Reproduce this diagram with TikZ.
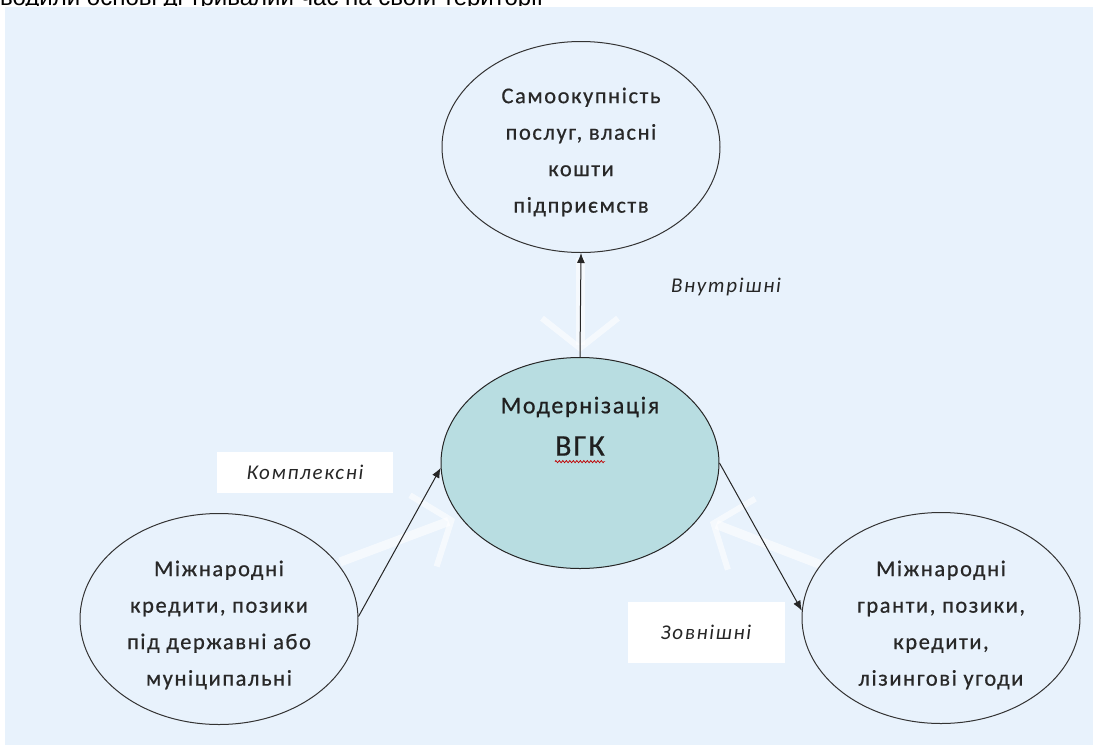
\documentclass[tikz,border=0pt]{standalone}
\usepackage{fontspec}
\setmainfont{Carlito}
\newfontfamily\diag[LetterSpace=7,FakeBold=0.6]{Carlito}
\newfontfamily\lbl[LetterSpace=8]{Carlito}
\newfontfamily\toptext{Liberation Sans}
\usetikzlibrary{shapes.geometric,arrows.meta,decorations.pathmorphing}
\definecolor{panel}{RGB}{232,242,252}
\definecolor{core}{RGB}{184,221,225}
\definecolor{txt}{RGB}{40,40,40}
\begin{document}
\begin{tikzpicture}[x=1pt,y=-1pt,
  oval/.style={ellipse, draw=black!80, line width=1pt, fill=panel,
    minimum width=278pt, minimum height=211pt, inner sep=0pt},
  ovaltext/.style={inner sep=0pt, align=center, text=txt,
    font=\diag\fontsize{22.5}{36.5}\selectfont},
  conn/.style={-{Latex[length=10pt,width=8pt]}, line width=1pt, black!85},
  ghost/.style={white, opacity=0.6, line width=9pt,
    -{Straight Barb[length=30pt,width=76pt,line width=6pt]}},
  tag/.style={fill=white, inner sep=0pt, text=black!85,
    font=\lbl\itshape\fontsize{21}{24}\selectfont},
  coretext/.style={inner sep=0pt, text=black!88}]
\useasboundingbox (0,0) rectangle (1093,745);
\fill[panel] (5,7) rectangle (1093,745);
\begin{scope}
  \clip (0,0) rectangle (1093,5);
  \node[anchor=base west, inner sep=0pt, font=\toptext\fontsize{24}{24}\selectfont] (cut) at (0,5) {водили основі ді тривалий час на своїй території};
\end{scope}
% faint white arrows
\coordinate (g1a) at (580,258);
\coordinate (g1b) at (580,352);
\coordinate (g2a) at (340,562);
\coordinate (g2b) at (455,519);
\coordinate (g3a) at (824,566);
\coordinate (g3b) at (710,522);
\draw[ghost] (g1a) -- (g1b);
\draw[ghost] (g2a) -- (g2b);
\draw[ghost] (g3a) -- (g3b);
% ellipses
\node[oval] (t) at (581,147) {};
\node[oval, fill=core, draw=black!85] (c) at (580,463) {};
\node[oval] (l) at (219,619) {};
\node[oval] (r) at (941,618) {};
\node[ovaltext] (tt) at (581,152) {Самоокупність\\послуг, власні\\кошти\\підприємств};
\node[ovaltext] (lt) at (219,625) {Міжнародні\\кредити, позики\\під державні або\\муніципальні};
\node[ovaltext] (rt) at (941,625) {Міжнародні\\гранти, позики,\\кредити,\\лізингові угоди};
\node[coretext, font=\diag\fontsize{24}{26}\selectfont] (ct1) at (580,407) {Модернізація};
\node[coretext, font=\diag\fontsize{30}{32}\selectfont] (ct2) at (580,446) {ВГК};
\draw[red!75!black, line width=0.7pt, decorate, decoration={zigzag, amplitude=1.1pt, segment length=3.5pt}]
  ([yshift=-6pt]ct2.base west) -- ([yshift=-6pt]ct2.base east);
% connectors
\draw[conn] (c.north) -- (t.south);
\draw[conn] (l.1) -- (c.182);
\draw[conn] (c.east) -- (r.177);
% labels
\node[tag, minimum width=176pt, minimum height=41pt] (k) at (305,472) {Комплексні};
\node[tag, minimum width=157pt, minimum height=61pt] (z) at (706,632) {Зовнішні};
\node[tag, fill=none] (v) at (726,287) {Внутрішні};
\end{tikzpicture}
\end{document}
